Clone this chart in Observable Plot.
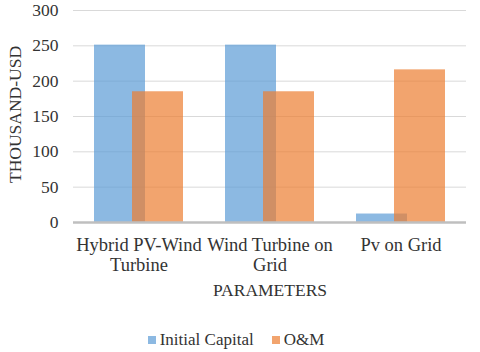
<!DOCTYPE html>
<html>
<head>
<meta charset="utf-8">
<script src="https://cdn.jsdelivr.net/npm/d3@7"></script>
<script src="https://cdn.jsdelivr.net/npm/@observablehq/plot@0.6"></script>
<style>
  html, body { margin: 0; padding: 0; background: #fff; overflow: hidden; }
  #wrap { width: 480px; height: 352px; position: relative; overflow: hidden; font-family: 'Liberation Serif', serif; }
  #wrap svg text { font-family: 'Liberation Serif', serif; }
  #legend { display: flex; justify-content: center; align-items: center; height: 24px; padding-top: 28px; font-size: 17px; color: #333; margin-left: -8px; font-family: 'Liberation Serif', serif; }
  #legend .item { display: flex; align-items: center; margin: 0 9px; }
  #legend .sw { width: 8px; height: 8px; margin-right: 4px; }
</style>
</head>
<body>
<div id="wrap"></div>
<script>
const categories = ["Hybrid PV-Wind Turbine", "Wind Turbine on Grid", "Pv on Grid"];
const tickLabels = ["Hybrid PV-Wind\nTurbine", "Wind Turbine on\nGrid", "Pv on Grid"];
const seriesNames = ["Initial Capital", "O&M"];
const initialCapital = [251, 251, 12];
const om = [185, 185, 216];
const yTicks = [0, 50, 100, 150, 200, 250, 300];
const xTitle = "PARAMETERS";
const yTitle = "THOUSAND-USD";
const colors = ["#5B9BD5", "#ED7D31"];
const serif = "'Liberation Serif', serif";

const capData = categories.map((c, i) => ({category: c, series: seriesNames[0], value: initialCapital[i]}));
const omData = categories.map((c, i) => ({category: c, series: seriesNames[1], value: om[i]}));

const chart = Plot.plot({
  width: 480,
  height: 300,
  marginLeft: 73,
  marginRight: 14,
  marginTop: 10,
  marginBottom: 78,
  style: {fontFamily: serif, fontSize: "17px", color: "#333", background: "#fff"},
  x: {domain: categories, paddingInner: 0.61, paddingOuter: 0.305, label: null},
  y: {domain: [0, 300], label: null},
  marks: [
    Plot.gridY(yTicks.filter(d => d > 0), {stroke: "#d9d9d9", strokeOpacity: 1, strokeWidth: 1}),
    Plot.barY(capData, {x: "category", y: "value", fill: colors[0], fillOpacity: 0.7, dx: -19}),
    Plot.barY(omData, {x: "category", y: "value", fill: colors[1], fillOpacity: 0.7, dx: 19}),
    Plot.ruleY([0], {stroke: "#BFBFBF", strokeWidth: 2.5}),
    Plot.axisY({ticks: yTicks, tickSize: 0, tickPadding: 15, label: null, fontSize: 17.5, fontFamily: serif}),
    Plot.axisX({tickSize: 0, tickPadding: 14, label: null, tickFormat: (d) => tickLabels[categories.indexOf(d)], lineHeight: 1.08, fontSize: 18.5, fontFamily: serif}),
    Plot.text([xTitle], {frameAnchor: "bottom", dy: 73, fontSize: 17.5, fontFamily: serif, fill: "#333"}),
    Plot.text([yTitle], {frameAnchor: "left", textAnchor: "middle", rotate: -90, dx: -58, dy: -2, fontSize: 17.5, fontFamily: serif, fill: "#333"})
  ]
});

const wrap = document.getElementById("wrap");
wrap.appendChild(chart);
chart.querySelectorAll("text").forEach(t => t.style.fontFamily = serif);
const legend = document.createElement("div");
legend.id = "legend";
seriesNames.forEach((s, i) => {
  const item = document.createElement("div");
  item.className = "item";
  const sw = document.createElement("span");
  sw.className = "sw";
  sw.style.background = colors[i];
  sw.style.opacity = 0.7;
  const t = document.createElement("span");
  t.textContent = s;
  item.appendChild(sw);
  item.appendChild(t);
  legend.appendChild(item);
});
wrap.appendChild(legend);
</script>
</body>
</html>
